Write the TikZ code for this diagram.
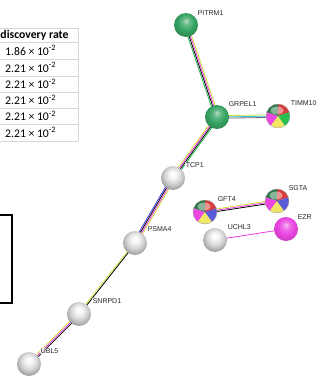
\documentclass[tikz,border=0pt]{standalone}
\usepackage{fontspec}
\setmainfont{Carlito}
\newfontfamily\lblfont{Liberation Sans}
\usetikzlibrary{calc,backgrounds}
\definecolor{tmy}{RGB}{205,225,60}
\definecolor{exm}{RGB}{240,60,230}
\definecolor{nbg}{RGB}{40,190,80}
\definecolor{cob}{RGB}{60,60,230}
\definecolor{dbc}{RGB}{60,190,220}
\definecolor{stgreen}{RGB}{55,165,100}
\definecolor{stred}{RGB}{215,60,60}
\definecolor{stdkg}{RGB}{40,120,70}
\definecolor{stmag}{RGB}{235,70,225}
\definecolor{styel}{RGB}{240,230,100}
\definecolor{stblue}{RGB}{90,90,215}
\definecolor{tgrid}{RGB}{215,215,215}
\pgfdeclareradialshading{grayshade}{\pgfqpoint{0bp}{9bp}}{color(0bp)=(white); color(7bp)=(white!97!black); color(17bp)=(black!16); color(27bp)=(black!36); color(34bp)=(black!46); color(50bp)=(black!46)}
\pgfdeclareradialshading{greenshade}{\pgfqpoint{0bp}{9bp}}{color(0bp)=(stgreen!35!white); color(7bp)=(stgreen!75!white); color(17bp)=(stgreen); color(27bp)=(stgreen!85!black); color(34bp)=(stgreen!70!black); color(50bp)=(stgreen!70!black)}
\pgfdeclareradialshading{magshade}{\pgfqpoint{0bp}{9bp}}{color(0bp)=(stmag!30!white); color(7bp)=(stmag!75!white); color(17bp)=(stmag); color(27bp)=(stmag!88!black); color(34bp)=(stmag!75!black); color(50bp)=(stmag!75!black)}
\newcommand\edgeset[3]{%
  \foreach \c/\o in {#3}{\draw[\c, line width=0.8pt] ($(#1.center)!\o pt!90:(#2.center)$) -- ($(#2.center)!\o pt!-90:(#1.center)$);}}
\newcommand\piefill[6]{%
  \foreach \c [count=\i from 0] in {#2,#3,#4,#5,#6}{%
    \fill[\c] (#1.center) -- ++({-(18+72*\i)}:12) arc[start angle={-(18+72*\i)}, end angle={-(90+72*\i)}, radius=12] -- cycle;}
  \fill[white, opacity=0.45] ($(#1.center)+(-1,-5.5)$) ellipse [x radius=6.5, y radius=4];
  \draw[black!35, line width=0.4pt] (#1.center) circle [radius=12];}
\begin{document}
\begin{tikzpicture}[x=1pt,y=-1pt,
  prot/.style={circle, minimum size=24pt, inner sep=0pt},
  grayball/.style={prot, shading=grayshade},
  greenball/.style={prot, shading=greenshade},
  magball/.style={prot, shading=magshade},
  pienode/.style={prot},
  lbl/.style={font=\lblfont\fontsize{7}{8}\selectfont, text=black!85, inner sep=0.6pt, anchor=west, fill=white, fill opacity=0.75, text opacity=1},
  tcell/.style={font=\fontsize{11.7}{13}\selectfont, inner sep=0pt, anchor=west, text=black}]
\useasboundingbox (0,0) rectangle (320,380);
% table
\foreach \yy in {28,42,59,76,92,108,124,141}{\draw[tgrid, line width=0.6pt] (0,\yy) -- (78,\yy);}
\draw[tgrid, line width=0.6pt] (78,28) -- (78,141);
\node[tcell, font=\bfseries\fontsize{11.7}{13}\selectfont] (th) at (0.3,35) {discovery rate};
\node[tcell] (r1) at (5,50.5) {1.86 × 10\textsuperscript{-2}};
\node[tcell] (r2) at (5,67.5) {2.21 × 10\textsuperscript{-2}};
\node[tcell] (r3) at (5,84) {2.21 × 10\textsuperscript{-2}};
\node[tcell] (r4) at (5,100) {2.21 × 10\textsuperscript{-2}};
\node[tcell] (r5) at (5,116) {2.21 × 10\textsuperscript{-2}};
\node[tcell] (r6) at (5,132.5) {2.21 × 10\textsuperscript{-2}};
% black box
\draw[line width=2pt] (-5,215) -- (12,215) -- (12,303) -- (-5,303);
% nodes
\node[greenball] (pitrm) at (186,25) {};
\node[greenball] (grpel) at (217,117) {};
\node[pienode] (timm) at (278,116) {};
\node[grayball] (tcp) at (173,178) {};
\node[pienode] (gft) at (205,212) {};
\node[pienode] (sgta) at (277,201) {};
\node[magball] (ezr) at (286,229) {};
\node[grayball] (uchl) at (215,240) {};
\node[grayball] (psma) at (135,243) {};
\node[grayball] (snrpd) at (79,314) {};
\node[grayball] (ubl) at (29,364) {};
\piefill{timm}{stred}{stdkg}{stmag}{styel}{nbg}
\piefill{gft}{stred}{stdkg}{stmag}{styel}{stblue}
\piefill{sgta}{stred}{stdkg}{stmag}{styel}{stblue}
% edges
\begin{scope}[on background layer]
\edgeset{pitrm}{grpel}{nbg/-1.95, black/-0.65, exm/0.65, tmy/1.95}
\edgeset{grpel}{timm}{tmy/1.3, dbc/0, black!60/-1.3}
\edgeset{grpel}{tcp}{tmy/-1.95, exm/-0.65, black/0.65, nbg/1.95}
\edgeset{tcp}{psma}{cob/-1.95, black/-0.65, exm/0.65, tmy/1.95}
\edgeset{psma}{snrpd}{tmy/-0.65, black/0.65}
\edgeset{snrpd}{ubl}{tmy/-1.3, exm/0, black/1.3}
\edgeset{gft}{sgta}{tmy/1.3, exm/0, black/-1.3}
\edgeset{uchl}{ezr}{exm/0}
\end{scope}
% labels
\node[lbl] (lpitrm) at (197,13) {PITRM1};
\node[lbl] (lgrpel) at (228,104) {GRPEL1};
\node[lbl] (ltimm) at (290,103) {TIMM10};
\node[lbl] (ltcp) at (185,165) {TCP1};
\node[lbl] (lgft) at (217,199) {GFT4};
\node[lbl] (lsgta) at (288,188) {SGTA};
\node[lbl] (lezr) at (297,217) {EZR};
\node[lbl] (luchl) at (227,227) {UCHL3};
\node[lbl] (lpsma) at (147,229) {PSMA4};
\node[lbl] (lsnrpd) at (92,301) {SNRPD1};
\node[lbl] (lubl) at (40,351) {UBL5};
\end{tikzpicture}
\end{document}
